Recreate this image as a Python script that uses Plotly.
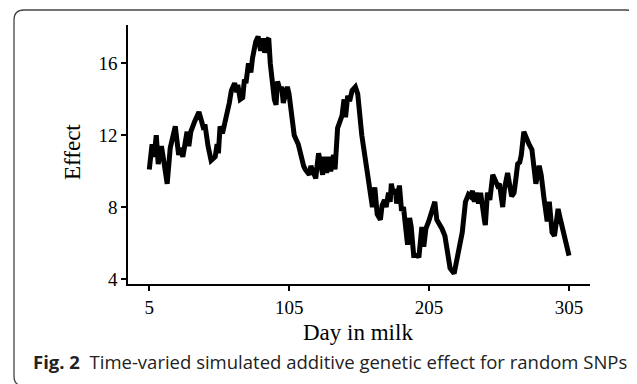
import plotly.graph_objects as go

day = [5, 6, 7, 8.5, 10, 11.4, 13.7, 15.5, 17.8, 20, 23.6, 26, 27, 29, 32, 33.3, 34.7, 37.6, 40.5, 43.4,
       44.8, 47, 49.2, 52.1, 53.5, 54.4, 55.6, 57.3, 59.6, 62.2, 63.7, 66, 67.5, 68.3, 70, 71.8, 73, 74.1,
       75.9, 77.6, 78.8, 81.1, 82.8, 84.6, 86.3, 87.5, 89.2, 90.4, 91.5, 92.7, 94.4, 95.6, 96.7, 98.5,
       99.6, 100.8, 102, 103.7, 104.9, 106.6, 108.6, 111.5, 113.6, 115.3, 116.5, 119.4, 120.5, 123.1, 124,
       124.5, 126, 127.4, 128.9, 130.3, 131.8, 133.2, 134.7, 136.7, 137.8, 139.6, 141.3, 142.8, 144.2,
       145.3, 146.8, 148.2, 150, 152.3, 154, 156.9, 160.7, 162.7, 164.5, 166.2, 167.9, 170.2, 171.4,
       173.1, 174.3, 176, 177.2, 178, 179.5, 180.9, 181.8, 183.8, 185.3, 186.7, 188.2, 189.6, 191.1,
       192.2, 194, 196.9, 197.7, 199.8, 201.2, 202.7, 204.7, 209.1, 210.5, 212.8, 214.2, 216.3, 217.7,
       220, 222.9, 224.4, 225.8, 227.3, 228.7, 231, 233.1, 234.5, 236, 237.4, 238.9, 240.3, 241.8, 244.7,
       245.2, 246.7, 248.4, 250.5, 251.9, 253.9, 255.3, 257.6, 258.8, 261.1, 264, 265.7, 266.9, 268.3,
       269.8, 270.9, 272.7, 274.4, 276.4, 278.5, 280.2, 281.3, 283.7, 285.1, 287.1, 289.4, 290.9, 292.9,
       294.6, 297.2, 298.6, 300.9, 302.4, 305]
effect = [10.1, 10.9, 11.5, 10.8, 12.0, 10.4, 11.4, 10.5, 9.3, 11.3, 12.5, 10.9, 11.3, 10.8, 12.2, 11.4,
          12.2, 12.8, 13.3, 12.5, 12.6, 11.4, 10.6, 10.8, 11.5, 11.0, 12.5, 12.1, 12.8, 13.8, 14.5, 14.9,
          14.4, 14.8, 14.0, 14.1, 15.1, 14.9, 16.0, 15.5, 16.3, 17.2, 17.5, 16.7, 17.4, 16.6, 17.3, 17.4,
          16.0, 15.0, 14.0, 13.7, 15.0, 14.5, 14.7, 13.8, 14.1, 14.7, 14.3, 13.3, 12.0, 11.5, 10.7, 10.3,
          10.1, 9.8, 10.3, 9.7, 9.6, 10.0, 11.0, 10.5, 9.8, 10.8, 9.9, 10.8, 10.0, 10.9, 10.1, 12.4, 12.9,
          13.1, 14.0, 13.0, 14.2, 13.9, 14.5, 14.7, 14.3, 12.0, 10.0, 8.7, 8.0, 9.1, 7.6, 7.3, 8.1, 8.4,
          8.0, 8.8, 8.3, 9.3, 8.7, 9.0, 8.2, 9.2, 7.8, 8.0, 7.0, 5.9, 7.4, 6.9, 5.3, 5.3, 5.2, 6.9, 5.8,
          6.8, 7.2, 8.3, 7.3, 7.0, 6.8, 6.4, 5.8, 4.6, 4.3, 4.9, 5.5, 6.3, 6.6, 8.3, 8.7, 8.6, 8.9, 8.3,
          8.8, 8.2, 8.8, 7.2, 7.0, 8.8, 8.4, 9.8, 9.6, 9.2, 9.3, 8.0, 9.0, 9.9, 8.6, 8.8, 9.5, 10.4, 10.5,
          10.9, 12.2, 11.8, 11.5, 11.2, 10.0, 9.3, 10.3, 9.8, 8.5, 7.2, 8.3, 6.6, 6.4, 7.9, 7.4, 6.7, 6.0,
          5.3]

x_ticks = [5, 105, 205, 305]
y_ticks = [4, 8, 12, 16]

# the page body adds an 8px margin, so the figure is drawn 8px in from the window corner
OFF = 8
W, H = 637 - OFF, 384 - OFF
L, R, T, B = 120, 47, 17, 100
pw, ph = W - L - R, H - T - B


def px(x):
    # x given in window pixels
    return (x - OFF - L) / pw


def py(y):
    # y given in window pixels
    return (H - B - (y - OFF)) / ph


fig = go.Figure()
fig.add_trace(go.Scatter(x=day, y=effect, mode="lines",
                         line=dict(color="black", width=5), hoverinfo="skip"))

serif = "Liberation Serif, Times New Roman, serif"
axis_common = dict(showgrid=False, zeroline=False, showline=True, linecolor="black", linewidth=1.5,
                   ticks="outside", ticklen=5, tickwidth=1.5, tickcolor="black",
                   tickfont=dict(family=serif, size=19, color="black"))
fig.update_xaxes(range=[-10.2, 320.0], tickvals=x_ticks, ticktext=[str(v) for v in x_ticks], **axis_common)
fig.update_yaxes(range=[3.72, 18.14], tickvals=y_ticks, ticktext=[str(v) for v in y_ticks], **axis_common)

r = 10
path = (f"M {px(14)} {py(376)} L {px(14)} {py(10 + r)} Q {px(14)} {py(10)} {px(14 + r)} {py(10)} "
        f"L {px(636 - r)} {py(10)} Q {px(636)} {py(10)} {px(636)} {py(10 + r)} L {px(636)} {py(395)} "
        f"M {px(14)} {py(376)} Q {px(14)} {py(386)} {px(14 + r)} {py(386)}")
fig.add_shape(type="path", path=path, xref="paper", yref="paper",
              line=dict(color="#444444", width=1.3), fillcolor="rgba(0,0,0,0)")

fig.add_annotation(text="Effect", xref="paper", yref="paper", x=px(72), y=py(152),
                   textangle=-90, showarrow=False, font=dict(family=serif, size=23, color="black"),
                   xanchor="center", yanchor="middle")
fig.add_annotation(text="Day in milk", xref="paper", yref="paper", x=px(358), y=py(332),
                   showarrow=False, font=dict(family=serif, size=23, color="black"),
                   xanchor="center", yanchor="middle")
fig.add_annotation(text="<b>Fig. 2</b>  Time-varied simulated additive genetic effect for random SNPs",
                   xref="paper", yref="paper", x=px(31), y=py(361), showarrow=False,
                   font=dict(family="Open Sans, Noto Sans, sans-serif", size=18.5, color="#222222"),
                   xanchor="left", yanchor="middle")

fig.update_layout(width=W, height=H, margin=dict(l=L, r=R, t=T, b=B, autoexpand=False),
                  paper_bgcolor="white", plot_bgcolor="white", showlegend=False)

fig.write_html("out.html")
